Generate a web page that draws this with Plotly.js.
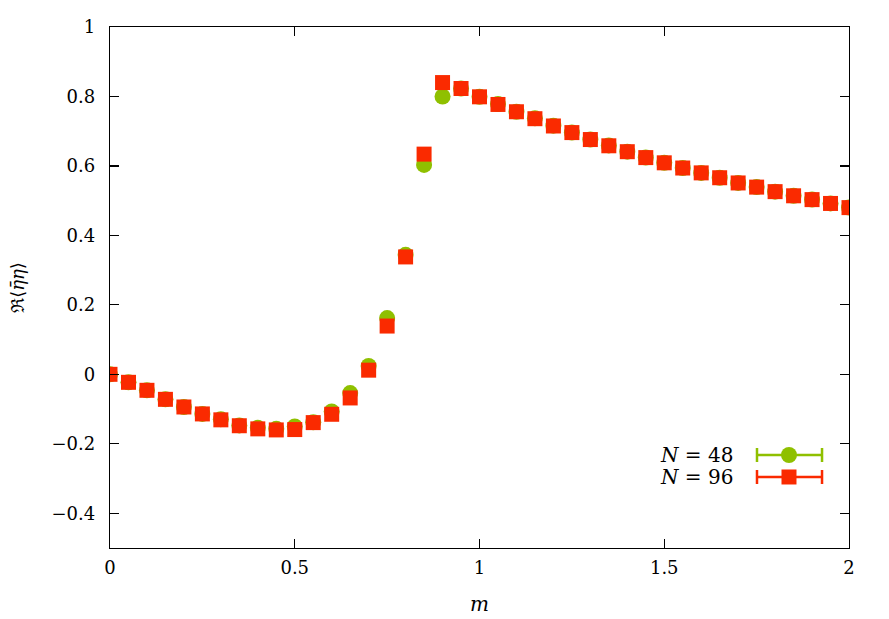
<!DOCTYPE html>
<html>
<head>
<meta charset="utf-8">
<script src="https://cdn.plot.ly/plotly-3.0.1.min.js"></script>
<style>html,body{margin:0;padding:0;background:#fff;}#chart{width:889px;height:619px;}</style>
</head>
<body>
<div id="chart"></div>
<script>
const mValues = [0,0.05,0.1,0.15,0.2,0.25,0.3,0.35,0.4,0.45,0.5,0.55,0.6,0.65,0.7,0.75,0.8,0.85,0.9,0.95,1.0,1.05,1.1,1.15,1.2,1.25,1.3,1.35,1.4,1.45,1.5,1.55,1.6,1.65,1.7,1.75,1.8,1.85,1.9,1.95,2.0];
const n48 = [0,-0.023,-0.046,-0.072,-0.094,-0.114,-0.129,-0.147,-0.154,-0.157,-0.150,-0.138,-0.107,-0.054,0.024,0.162,0.344,0.603,0.800,0.823,0.799,0.778,0.756,0.737,0.716,0.696,0.676,0.659,0.641,0.624,0.609,0.594,0.580,0.566,0.551,0.539,0.526,0.514,0.503,0.492,0.480];
const n96 = [0,-0.023,-0.046,-0.072,-0.094,-0.114,-0.131,-0.148,-0.157,-0.160,-0.159,-0.139,-0.115,-0.068,0.012,0.139,0.338,0.634,0.840,0.823,0.799,0.777,0.756,0.736,0.715,0.696,0.676,0.658,0.641,0.624,0.609,0.594,0.580,0.566,0.551,0.539,0.526,0.514,0.503,0.492,0.480];
const seriesNames = ['<i>N</i> = 48', '<i>N</i> = 96'];
const xTicks = [0,0.5,1,1.5,2];
const xTickText = ['0','0.5','1','1.5','2'];
const yTicks = [-0.4,-0.2,0,0.2,0.4,0.6,0.8,1];
const yTickText = ['\u22120.4','\u22120.2','0','0.2','0.4','0.6','0.8','1'];

const green = '#8fc000';
const red = '#fa2a00';
const font = 'DejaVu Serif';

const traces = [
  {x: mValues, y: n48, type: 'scatter', mode: 'markers', name: seriesNames[0],
   marker: {symbol: 'circle', size: 16, color: green}, showlegend: false},
  {x: mValues, y: n96, type: 'scatter', mode: 'markers', name: seriesNames[1],
   marker: {symbol: 'square', size: 15, color: red}, showlegend: false}
];

// Legend (gnuplot style, with error-bar key)
const legendX0 = 0.8755, legendX1 = 0.9635, legendXm = 0.9188;
const legendY = [0.1785, 0.1363];
const colors = [green, red];
const shapes = [];
const annotations = [];
for (let i = 0; i < 2; i++) {
  const c = colors[i], y = legendY[i];
  shapes.push({type: 'line', xref: 'paper', yref: 'paper', x0: legendX0, x1: legendX1, y0: y, y1: y, line: {color: c, width: 2.5}});
  [legendX0, legendX1].forEach(xx => shapes.push({type: 'line', xref: 'paper', yref: 'paper', ysizemode: 'pixel', yanchor: y,
    x0: xx, x1: xx, y0: -7, y1: 7, line: {color: c, width: 2.5}}));
  shapes.push({type: i === 0 ? 'circle' : 'rect', xref: 'paper', yref: 'paper', xsizemode: 'pixel', ysizemode: 'pixel',
    xanchor: legendXm, yanchor: y, x0: i === 0 ? -8 : -7.5, x1: i === 0 ? 8 : 7.5, y0: i === 0 ? -8 : -7.5, y1: i === 0 ? 8 : 7.5,
    fillcolor: c, line: {width: 0}});
  annotations.push({xref: 'paper', yref: 'paper', x: 0.8457, y: y, xanchor: 'right', yanchor: 'middle',
    text: seriesNames[i], showarrow: false, font: {family: font, size: 20, color: '#000'}});
}

const layout = {
  width: 889, height: 619,
  margin: {l: 110, r: 40, t: 27, b: 71, pad: 0},
  paper_bgcolor: '#fff', plot_bgcolor: '#fff',
  font: {family: font, size: 18, color: '#000'},
  xaxis: {range: [0, 2], tickvals: xTicks, ticktext: xTickText, ticks: 'inside', ticklen: 9, tickwidth: 1.2, tickcolor: '#000',
    showline: true, linecolor: '#000', linewidth: 1.2, mirror: 'ticks', showgrid: false, zeroline: false, ticklabelstandoff: 3,
    title: {text: '<i>m</i>', font: {family: font, size: 20}, standoff: 20}, tickfont: {family: font, size: 18}},
  yaxis: {range: [-0.5, 1], tickvals: yTicks, ticktext: yTickText, ticks: 'inside', ticklen: 9, tickwidth: 1.2, tickcolor: '#000',
    showline: true, linecolor: '#000', linewidth: 1.2, mirror: 'ticks', showgrid: false, zeroline: false, ticklabelstandoff: 10,
    title: {text: '\u211C\u27E8<i>\u03B7\u0304\u03B7</i>\u27E9', font: {family: font, size: 18}, standoff: 22},
    tickfont: {family: font, size: 18}},
  shapes: shapes, annotations: annotations, showlegend: false
};

Plotly.newPlot('chart', traces, layout, {displayModeBar: false, staticPlot: true});
</script>
</body>
</html>
